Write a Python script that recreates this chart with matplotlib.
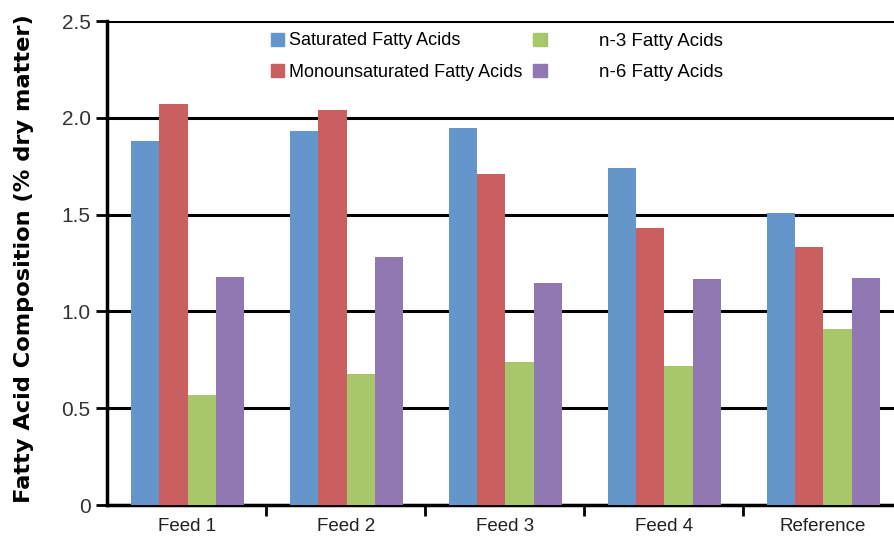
import numpy as np
import matplotlib
matplotlib.use("Agg")
from matplotlib import pyplot as plt
from matplotlib.patches import Patch

# data
feeds = ["Feed 1", "Feed 2", "Feed 3", "Feed 4", "Reference"]
saturated = [1.88, 1.93, 1.95, 1.74, 1.51]
monounsat = [2.07, 2.04, 1.71, 1.43, 1.335]
n3 = [0.57, 0.675, 0.74, 0.72, 0.91]
n6 = [1.18, 1.28, 1.145, 1.165, 1.175]
yticks = [0, 0.5, 1.0, 1.5, 2.0, 2.5]
ytick_labels = ["0", "0.5", "1.0", "1.5", "2.0", "2.5"]

series = [saturated, monounsat, n3, n6]
names = ["Saturated Fatty Acids", "Monounsaturated Fatty Acids",
         "n-3 Fatty Acids", "n-6 Fatty Acids"]
colors = ["#6495cb", "#c95f5e", "#a8c66a", "#9178b2"]

plt.rcParams['font.family'] = ['Liberation Sans', 'DejaVu Sans']

fig = plt.figure(figsize=(8.94, 5.39), dpi=100)
ax = fig.add_axes([0.12, 0.063, 0.889, 0.898])

x = np.arange(len(feeds))
w = 0.178
for i, vals in enumerate(series):
    ax.bar(x + (i - 1.5) * w + 0.005, vals, w, color=colors[i], zorder=3)

ax.set_xlim(-0.5, 4.5)
ax.set_ylim(0, 2.5)
ax.set_yticks(yticks)
ax.set_yticklabels(ytick_labels, fontsize=15, color="#333333")
ax.yaxis.grid(True, color="black", linewidth=2.2, zorder=1)
ax.set_axisbelow(True)

ax.set_xticks(x)
ax.set_xticklabels(feeds, fontsize=13.5, color="#222222")
ax.set_xticks(x[:-1] + 0.5, minor=True)
ax.tick_params(axis="x", which="major", length=0, pad=9)
ax.tick_params(axis="x", which="minor", length=8, width=2, direction="out")
ax.tick_params(axis="y", length=8, width=2, direction="out", pad=4)

for s in ["right", "top"]:
    ax.spines[s].set_visible(False)
ax.spines["left"].set_linewidth(2.5)
ax.spines["bottom"].set_linewidth(2.5)

ax.set_ylabel("Fatty Acid Composition (% dry matter)", fontsize=16.2,
              fontweight="bold", family="DejaVu Sans")
ax.yaxis.set_label_coords(-0.092, 0.51)

h1 = [Patch(color=colors[0]), Patch(color=colors[1])]
leg1 = ax.legend(h1, names[:2], loc="upper left", bbox_to_anchor=(0.185, 1.01),
                 frameon=False, fontsize=13, handlelength=0.72, handleheight=0.72,
                 handletextpad=0.3, labelspacing=0.8)
ax.add_artist(leg1)
h2 = [Patch(color=colors[2]), Patch(color=colors[3])]
ax.legend(h2, names[2:], loc="upper left", bbox_to_anchor=(0.515, 1.01),
          frameon=False, fontsize=13.5, handlelength=0.7, handleheight=0.7,
          handletextpad=2.8, labelspacing=0.75)

fig.savefig("out.png", dpi=100)
